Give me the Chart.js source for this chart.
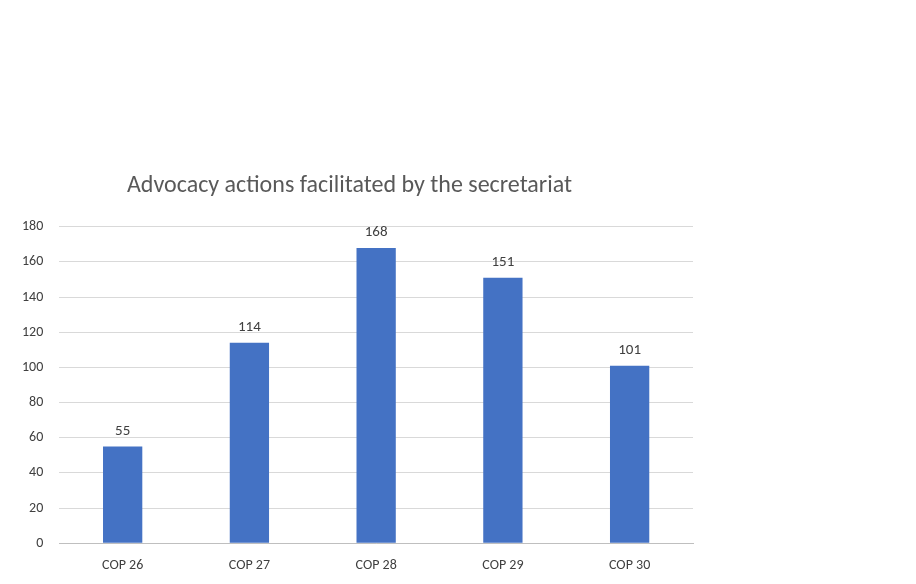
<!DOCTYPE html>
<html><head><meta charset="utf-8">
<script src="https://cdn.jsdelivr.net/npm/chart.js@4"></script>
<style>html,body{margin:0;padding:0;background:#fff}#w{width:916px;height:584px}</style>
</head><body><div id="w"><canvas id="c"></canvas></div>
<script>
const categories = ["COP 26","COP 27","COP 28","COP 29","COP 30"];
const values = [55,114,168,151,101];
const yTicks = [0,20,40,60,80,100,120,140,160,180];

const labelPlugin = {
  id:'vals',
  afterDatasetsDraw(chart){
    const ctx=chart.ctx;
    chart.getDatasetMeta(0).data.forEach((b,i)=>{
      ctx.save();
      ctx.font='15px Calibri, Carlito, "Liberation Sans", sans-serif';
      ctx.fillStyle='#404040';ctx.textAlign='center';ctx.textBaseline='bottom';
      ctx.fillText(values[i], b.x, b.y-8);
      ctx.restore();
    });
  }
};
new Chart(document.getElementById('c'),{
  type:'bar',
  data:{labels:categories,datasets:[{data:values,backgroundColor:'#4472c4',barPercentage:0.31,categoryPercentage:1}]},
  options:{
    responsive:true,maintainAspectRatio:false,animation:false,
    layout:{padding:{top:172,right:223,left:6,bottom:4}},
    plugins:{legend:{display:false},tooltip:{enabled:false},
      title:{display:true,text:'Advocacy actions facilitated by the secretariat',color:'#595959',
        font:{size:24,family:'Calibri, Carlito, "Liberation Sans", sans-serif',weight:'normal'},padding:{top:0,bottom:26}}},
    scales:{
      x:{grid:{display:false},border:{color:'#bfbfbf'},
        ticks:{color:'#404040',font:{size:14,family:'Calibri, Carlito, "Liberation Sans", sans-serif'},padding:6}},
      y:{min:0,max:180,afterBuildTicks(s){s.ticks=yTicks.map(v=>({value:v}));},
        grid:{color:'#d9d9d9',drawTicks:false},border:{display:false},
        ticks:{color:'#404040',font:{size:14,family:'Calibri, Carlito, "Liberation Sans", sans-serif'},padding:16}}
    }
  },
  plugins:[labelPlugin]
});
</script></body></html>
